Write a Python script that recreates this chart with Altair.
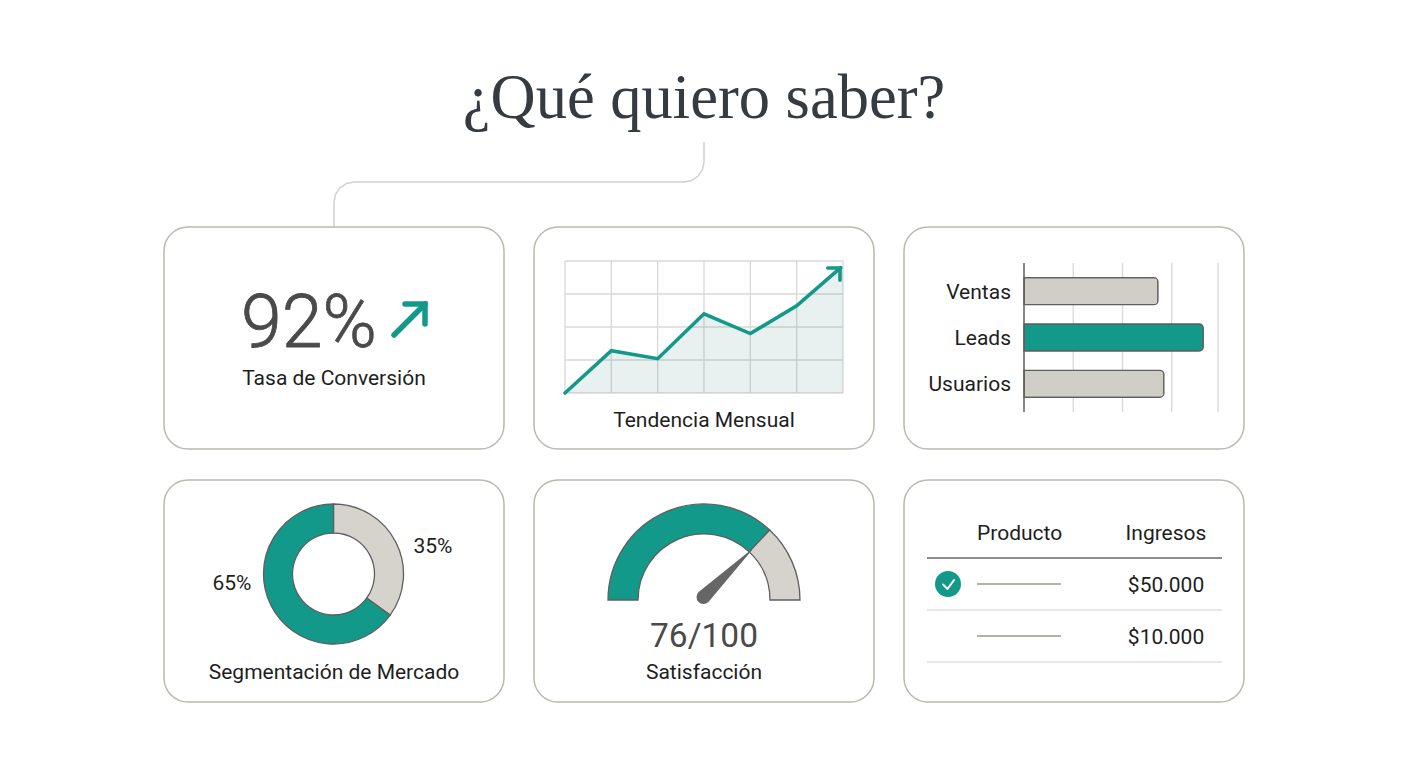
import altair as alt
import pandas as pd

# colours
TEAL = '#12998a'
GREY = '#d1cdc7'
EDGE = '#5f5f5f'
INK = '#1e1e1e'
SOFT_INK = '#4a4a4a'
GRID = '#d8d8d6'

# trend card
months = [0, 1, 2, 3, 4, 5, 6]
line_months = [0, 1, 2, 3, 4, 5, 5.95]
trend = [0, 32, 26, 60, 45, 66, 95]
trend_levels = [0, 25, 50, 75, 100]

# bar card
bar_names = ['Ventas', 'Leads', 'Usuarios']
bar_values = [68, 91, 71]
bar_grid = [25, 50, 75, 98.5]

# donut card
segments = ['Resto', 'Principal']
segment_values = [35, 65]

# gauge card
gauge_names = ['Logrado', 'Restante']
gauge_start = [0, 74]
gauge_end = [74, 100]

# table card
rows = ['a', 'b']
revenues = ['$50.000', '$10.000']

# hand drawn bits, in card pixels
connector_x = [540, 540, 538.5, 534.1, 527.7, 520, 190, 182.3, 175.9, 171.5, 170, 170]
connector_y = [133, 153, 160.7, 167.1, 171.5, 173, 173, 174.5, 178.9, 185.3, 193, 218]
kpi_arrow_x = [230, 261]
kpi_arrow_y = [108, 77]
needle_x = [169.5, 217.5]
needle_y = [117, 70]
needle_w = [14, 1]
check_x = [39, 43.5, 50]
check_y = [104.5, 109, 100]

HEAD = 'M-1,0L0,0L0,1'
px_x = alt.Scale(domain=[0, 340], range=[0, 340])
px_y = alt.Scale(domain=[0, 222], range=[0, 222])


def label(text, x, y, size=21, color=INK, align='center', weight=400, font='Roboto', **extra):
    return alt.Chart(pd.DataFrame({'t': [text]})).mark_text(
        font=font, fontSize=size, fontWeight=weight, color=color, align=align, baseline='alphabetic', **extra
    ).encode(x=alt.value(x), y=alt.value(y), text='t:N')


def px_line(xs, ys, color, width, cap='round'):
    df = pd.DataFrame({'x': xs, 'y': ys, 'i': range(len(xs))})
    return alt.Chart(df).mark_line(color=color, strokeWidth=width, strokeCap=cap, strokeJoin='round').encode(
        x=alt.X('x:Q', scale=px_x, axis=None),
        y=alt.Y('y:Q', scale=px_y, axis=None),
        order='i:Q'
    )


def px_head(x, y, size, width):
    df = pd.DataFrame({'x': [x], 'y': [y]})
    return alt.Chart(df).mark_point(
        shape=HEAD, size=size, filled=False, color=TEAL, strokeWidth=width, strokeCap='round', opacity=1
    ).encode(
        x=alt.X('x:Q', scale=px_x, axis=None),
        y=alt.Y('y:Q', scale=px_y, axis=None)
    )


def card(*layers):
    # every layer keeps its own explicit scale
    return alt.layer(*layers).resolve_scale(x='independent', y='independent').properties(width=340, height=222)


# header
header = alt.layer(
    label('¿Qué quiero saber?', 540, 109, size=62.5, color='#353b40', font='Liberation Serif'),
    px_line(connector_x, connector_y, '#d2d0cb', 1.5, cap='butt'),
).properties(width=1080, height=218, view=alt.ViewBackground(stroke='transparent'))

# KPI
kpi = card(
    label('92%', 145, 120, size=73.5, color=SOFT_INK, weight=300, stroke=SOFT_INK, strokeWidth=0.8),
    px_line(kpi_arrow_x, kpi_arrow_y, TEAL, 5.5),
    px_head(261, 77, 1600, 5.5),
    label('Tasa de Conversión', 170, 158),
)

# trend
trend_df = pd.DataFrame({'month': months, 'line_month': line_months, 'value': trend})
trend_x = alt.Scale(domain=[0, 6], range=[31, 309])
trend_y = alt.Scale(domain=[0, 100], range=[166, 34])
v_grid = alt.Chart(pd.DataFrame({'month': months})).mark_rule(color=GRID, strokeWidth=1.3).encode(
    x=alt.X('month:Q', scale=trend_x, axis=None), y=alt.value(34), y2=alt.value(166)
)
h_grid = alt.Chart(pd.DataFrame({'level': trend_levels})).mark_rule(color=GRID, strokeWidth=1.3).encode(
    y=alt.Y('level:Q', scale=trend_y, axis=None), x=alt.value(31), x2=alt.value(309)
)
trend_area = alt.Chart(trend_df).mark_area(color='#2b7f75', opacity=0.11).encode(
    x=alt.X('month:Q', scale=trend_x, axis=None), y=alt.Y('value:Q', scale=trend_y, axis=None)
)
trend_line = alt.Chart(trend_df).mark_line(color=TEAL, strokeWidth=3.6, strokeCap='round', strokeJoin='miter').encode(
    x=alt.X('line_month:Q', scale=trend_x, axis=None), y=alt.Y('value:Q', scale=trend_y, axis=None)
)
trend_card = card(
    v_grid, h_grid, trend_area, trend_line,
    px_head(306, 41, 600, 3.6),
    label('Tendencia Mensual', 170, 200),
)

# bars
bar_df = pd.DataFrame({'name': bar_names, 'value': bar_values})
bar_x = alt.Scale(domain=[0, 100], range=[120, 317])
bar_y = alt.Scale(domain=bar_names, range=[41, 180])
bar_rules = alt.Chart(pd.DataFrame({'tick': bar_grid})).mark_rule(color=GRID, strokeWidth=1.3).encode(
    x=alt.X('tick:Q', scale=bar_x, axis=None), y=alt.value(36), y2=alt.value(185)
)
bars = alt.Chart(bar_df).mark_bar(size=27, cornerRadiusEnd=4, stroke=EDGE, strokeWidth=1.3).encode(
    x=alt.X('value:Q', scale=bar_x, axis=None),
    y=alt.Y('name:N', scale=bar_y, axis=None),
    color=alt.Color('name:N', scale=alt.Scale(domain=bar_names, range=[GREY, TEAL, GREY]), legend=None)
)
bar_base = alt.Chart(pd.DataFrame({'tick': [0]})).mark_rule(color=EDGE, strokeWidth=1.5).encode(
    x=alt.X('tick:Q', scale=bar_x, axis=None), y=alt.value(36), y2=alt.value(185)
)
bar_labels = alt.Chart(bar_df).mark_text(font='Roboto', fontSize=21, color=INK, align='right', baseline='middle', dy=1.5).encode(
    x=alt.value(107), y=alt.Y('name:N', scale=bar_y, axis=None), text='name:N'
)
bar_card = card(bar_rules, bars, bar_base, bar_labels)

# donut
donut_df = pd.DataFrame({'segment': segments, 'value': segment_values, 'i': [0, 1]})
donut = alt.Chart(donut_df).mark_arc(radius=70, radius2=41, stroke=EDGE, strokeWidth=1.3).encode(
    theta=alt.Theta('value:Q', stack=True),
    order='i:Q',
    color=alt.Color('segment:N', scale=alt.Scale(domain=segments, range=['#d6d2cc', TEAL]), legend=None),
    x=alt.value(169.5),
    y=alt.value(94)
)
donut_card = card(
    donut,
    label('65%', 68, 110),
    label('35%', 269, 73),
    label('Segmentación de Mercado', 170, 199),
)

# gauge
gauge_df = pd.DataFrame({'name': gauge_names, 'start': gauge_start, 'end': gauge_end})
gauge = alt.Chart(gauge_df).mark_arc(radius=96, radius2=66, stroke=EDGE, strokeWidth=1.3).encode(
    theta=alt.Theta('start:Q', stack=False, scale=alt.Scale(domain=[0, 100], range=[-1.5708, 1.5708])),
    theta2='end:Q',
    color=alt.Color('name:N', scale=alt.Scale(domain=gauge_names, range=[TEAL, '#d6d2cc']), legend=None),
    x=alt.value(170),
    y=alt.value(120)
)
needle_df = pd.DataFrame({'x': needle_x, 'y': needle_y, 'w': needle_w, 'i': [0, 1]})
needle = alt.Chart(needle_df).mark_trail(color='#666666').encode(
    x=alt.X('x:Q', scale=px_x, axis=None),
    y=alt.Y('y:Q', scale=px_y, axis=None),
    size=alt.Size('w:Q', scale=None),
    order='i:Q'
)
gauge_card = card(
    gauge,
    needle,
    label('76/100', 170, 167, size=33.5, color=SOFT_INK),
    label('Satisfacción', 170, 199),
)

# table
table_df = pd.DataFrame({'row': rows, 'revenue': revenues})
row_y = alt.Scale(type='point', domain=rows, range=[104, 156], padding=0)
placeholders = alt.Chart(table_df).mark_rule(color='#b5b0a8', strokeWidth=2).encode(
    y=alt.Y('row:N', scale=row_y, axis=None), x=alt.value(73), x2=alt.value(157)
)
revenue_text = alt.Chart(table_df).mark_text(font='Roboto', fontSize=21, color=INK, baseline='middle', dy=1.5).encode(
    x=alt.value(262), y=alt.Y('row:N', scale=row_y, axis=None), text='revenue:N'
)
dividers = alt.Chart(pd.DataFrame({'y': [130, 182]})).mark_rule(color='#dededc', strokeWidth=1.3).encode(
    y=alt.Y('y:Q', scale=px_y, axis=None), x=alt.value(23), x2=alt.value(318)
)
head_rule = alt.Chart(pd.DataFrame({'y': [78]})).mark_rule(color='#666666', strokeWidth=1.5).encode(
    y=alt.Y('y:Q', scale=px_y, axis=None), x=alt.value(23), x2=alt.value(318)
)
badge = alt.Chart(pd.DataFrame({'x': [44], 'y': [104]})).mark_point(
    shape='circle', size=676, filled=True, color=TEAL, opacity=1
).encode(x=alt.X('x:Q', scale=px_x, axis=None), y=alt.Y('y:Q', scale=px_y, axis=None))
table_card = card(
    head_rule, dividers, placeholders, revenue_text, badge,
    px_line(check_x, check_y, 'white', 2),
    label('Producto', 73, 60, align='left'),
    label('Ingresos', 262, 60),
)

# colours differ from card to card, so no shared colour scale across the grid
top_row = alt.hconcat(kpi, trend_card, bar_card, spacing=28).resolve_scale(color='independent', theta='independent')
bottom_row = alt.hconcat(donut_card, gauge_card, table_card, spacing=28).resolve_scale(color='independent', theta='independent')
grid = alt.vconcat(top_row, bottom_row, spacing=29).resolve_scale(color='independent', theta='independent')

chart = alt.vconcat(header, grid, spacing=0, bounds='flush').resolve_scale(
    color='independent', theta='independent'
).properties(
    padding={'left': 155, 'top': 0, 'right': 0, 'bottom': 0},
    background='white'
).configure_view(
    stroke='#bcb8b0', strokeWidth=1.5, cornerRadius=24
).configure_concat(spacing=0)

chart.save("out.html", embed_options={"renderer": "svg", "actions": False})
